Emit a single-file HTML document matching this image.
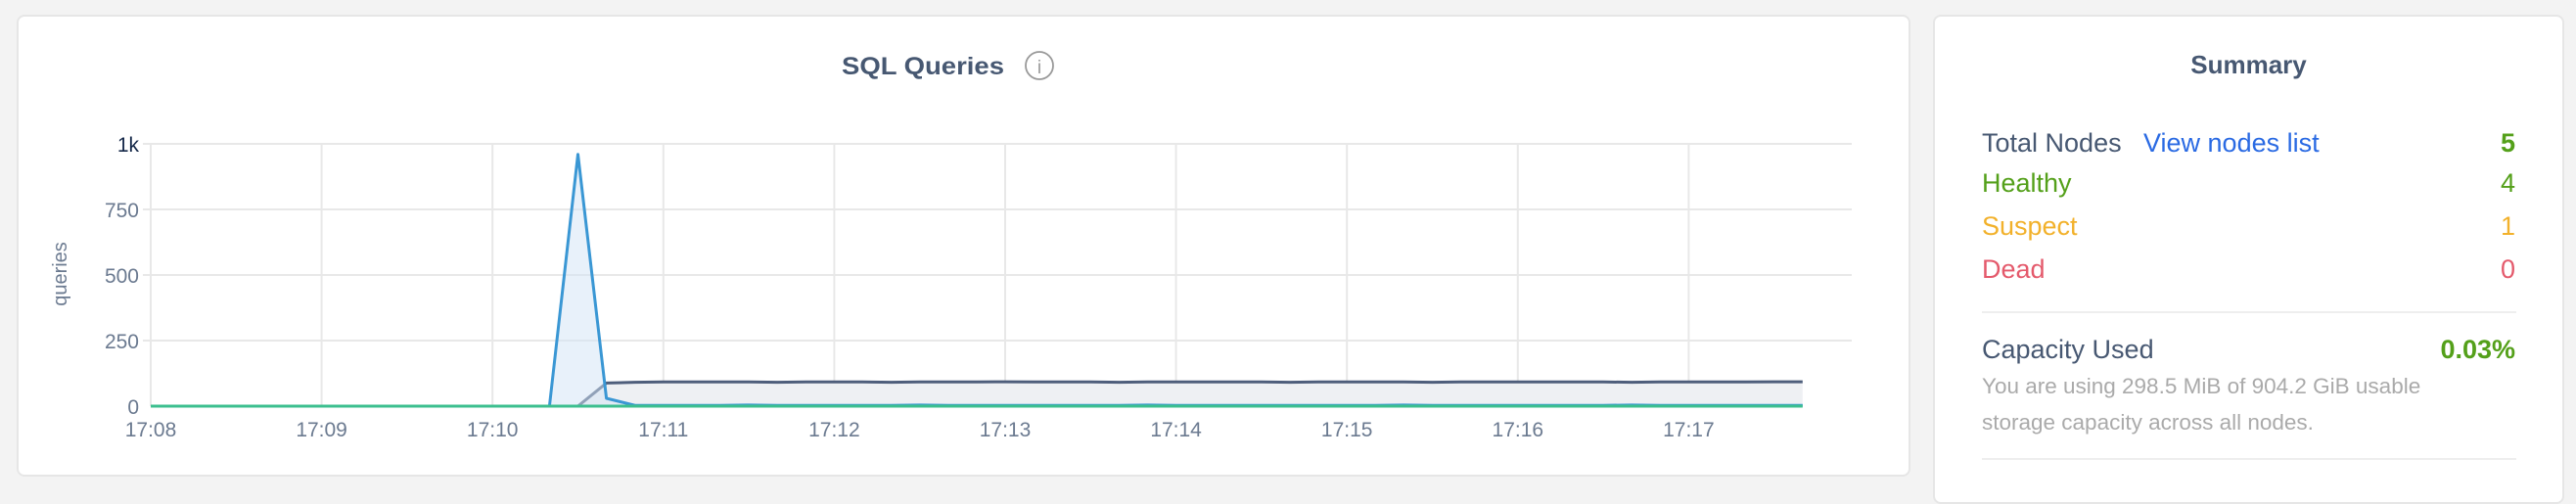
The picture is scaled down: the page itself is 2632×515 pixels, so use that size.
<!DOCTYPE html>
<html><head><meta charset="utf-8"><style>
html,body{margin:0;padding:0;width:2632px;height:494px;overflow:hidden;background:#f3f3f3;font-family:"Liberation Sans",sans-serif;}
.card{position:absolute;background:#fff;border:2px solid #e6e6e6;border-radius:8px;box-sizing:border-box;}
.t{position:absolute;white-space:nowrap;}
</style></head><body>
<div class="card" style="left:17px;top:15px;width:1935px;height:472px;"></div>
<div class="card" style="left:1975px;top:15px;width:645px;height:500px;"></div>
<svg id="chart" width="2632" height="494" style="position:absolute;left:0;top:0;font-family:'Liberation Sans',sans-serif;">
<text x="860" y="76" textLength="166" lengthAdjust="spacingAndGlyphs" font-size="25" font-weight="bold" fill="#475872">SQL Queries</text>
<g><circle cx="1062" cy="67" r="14" fill="none" stroke="#999" stroke-width="1.8"/><text x="1062" y="75" text-anchor="middle" font-size="19" fill="#999">i</text></g>
<text transform="translate(68,280) rotate(-90)" text-anchor="middle" font-size="20" fill="#6b7a90">queries</text>
<g id="grid"></g><g id="marks"></g><g id="labels"></g>
</svg>
<div class="t" style="left:1976px;width:643px;text-align:center;top:51px;font-size:26px;font-weight:bold;color:#475872;">Summary</div>
<div class="t" style="left:2025px;top:131px;font-size:27px;color:#475872;">Total Nodes</div>
<div class="t" style="left:2190px;top:131px;font-size:27px;color:#2a6ae3;">View nodes list</div>
<div class="t" style="right:62px;top:131px;font-size:27px;font-weight:bold;color:#54a01a;">5</div>
<div class="t" style="left:2025px;top:172px;font-size:27px;color:#54a01a;">Healthy</div>
<div class="t" style="right:62px;top:172px;font-size:27px;color:#54a01a;">4</div>
<div class="t" style="left:2025px;top:216px;font-size:27px;color:#f2b12b;">Suspect</div>
<div class="t" style="right:62px;top:216px;font-size:27px;color:#f2b12b;">1</div>
<div class="t" style="left:2025px;top:260px;font-size:27px;color:#e45a6c;">Dead</div>
<div class="t" style="right:62px;top:260px;font-size:27px;color:#e45a6c;">0</div>
<div style="position:absolute;left:2025px;top:318px;width:546px;height:2px;background:#eee;"></div>
<div class="t" style="left:2025px;top:342px;font-size:27px;color:#475872;">Capacity Used</div>
<div class="t" style="right:62px;top:342px;font-size:27px;font-weight:bold;color:#54a01a;">0.03%</div>
<div class="t" style="left:2025px;top:376px;font-size:22.5px;line-height:37px;color:#aaa;">You are using 298.5 MiB of 904.2 GiB usable<br>storage capacity across all nodes.</div>
<div style="position:absolute;left:2025px;top:468px;width:546px;height:2px;background:#eee;"></div>
<script>
const xTicks=["17:08","17:09","17:10","17:11","17:12","17:13","17:14","17:15","17:16","17:17"];
const yTicks=[0,250,500,750,1000];
const yTickLabels=["0","250","500","750","1k"];
// samples every 10s starting 17:08:00
const greenSeries=[0,0,0,0,0,0,0,0,0,0,0,0,0,0,0,0,0,0,0,0,0,0,0,0,0,0,0,0,0,0,0,0,0,0,0,0,0,0,0,0,0,0,0,0,0,0,0,0,0,0,0,0,0,0,0,0,0,0,0];
const blueSeries=[0,0,0,0,0,0,0,0,0,0,0,0,0,0,0,960,30,3,3,3,3,4,3,3,3,3,3,4,3,3,3,3,3,3,3,4,3,3,3,3,3,3,3,3,4,3,3,3,3,3,3,3,4,3,3,3,3,3,3];
const darkSeries=[0,0,0,0,0,0,0,0,0,0,0,0,0,0,0,0,88,91,92,92,92,92,91,92,92,92,91,92,92,92,93,92,92,92,91,92,92,92,92,92,91,92,92,92,92,91,92,92,92,92,92,92,91,92,92,92,92,93,93];
const X0=154,PX=174.6,Y0=415,PY=0.268,XR=1892;
const xs=m=>X0+m*PX, ys=v=>Y0-v*PY;
const NS='http://www.w3.org/2000/svg';
function mk(tag,attrs,parent){const e=document.createElementNS(NS,tag);for(const k in attrs)e.setAttribute(k,attrs[k]);parent.appendChild(e);return e;}
const grid=document.getElementById('grid'),marks=document.getElementById('marks'),labels=document.getElementById('labels');
yTicks.forEach((v,i)=>{
  if(v>0){const l=mk('line',{x1:X0-8,x2:XR,y1:ys(v),y2:ys(v),stroke:'#e8e8e8','stroke-width':2},grid);
  
  }
  const t=mk('text',{x:142,y:ys(v)+8,'text-anchor':'end','font-size':21,fill:v==1000?'#152849':'#6b7a90'},labels);
  t.textContent=yTickLabels[i];
  
  
});
xTicks.forEach((s,i)=>{
  const l=mk('line',{x1:xs(i),x2:xs(i),y1:ys(1000),y2:Y0,stroke:'#e8e8e8','stroke-width':2},grid);
  
  
  const t=mk('text',{x:xs(i),y:446,'text-anchor':'middle','font-size':21,fill:'#6b7a90'},labels);
  t.textContent=s;
  
  
});
function series(arr,stroke,fill,name){
  const pts=arr.map((v,i)=>[xs(i/6),ys(v)]);
  const d=pts.map((p,i)=>(i?'L':'M')+p[0].toFixed(1)+','+p[1].toFixed(1)).join('');
  const a=mk('path',{d:d+'L'+pts[pts.length-1][0]+','+Y0+'L'+pts[0][0]+','+Y0+'Z',fill:fill,stroke:'none'},marks);
  
  
  const p=mk('path',{d:d,fill:'none',stroke:stroke,'stroke-width':3,'stroke-linejoin':'round'},marks);
  
  
}
series(darkSeries,'#4e5e7b','#eef0f3','dark-series');
series(blueSeries,'#3a97d4','rgba(210,228,245,0.5)','blue-series');
series(greenSeries,'#3cbf8f','none','green-series');
</script>
</body></html>
